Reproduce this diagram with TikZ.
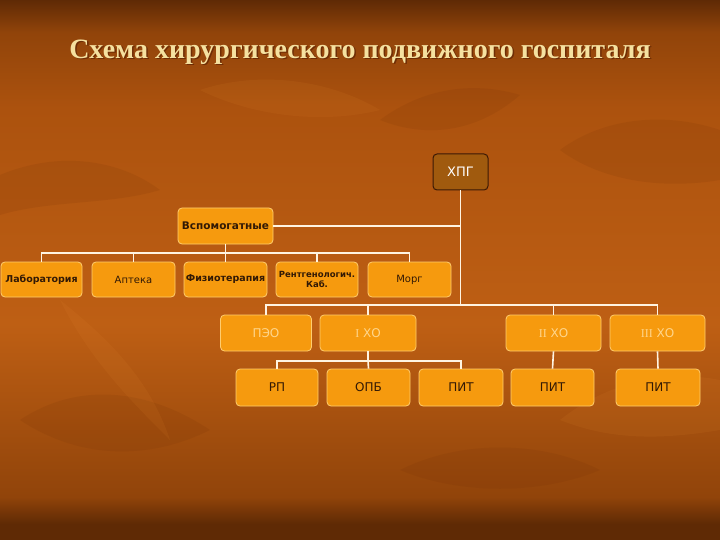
\documentclass[tikz,border=0pt]{standalone}
\usepackage{fontspec}
\setmainfont{Liberation Serif}
\setsansfont{DejaVu Sans}
\newfontfamily\boxfont{DejaVu Sans}
\usetikzlibrary{calc}
\definecolor{bgA}{RGB}{95,42,5}
\definecolor{bgB}{RGB}{145,68,10}
\definecolor{bgC}{RGB}{190,95,20}
\definecolor{bgD}{RGB}{172,82,14}
\definecolor{boxor}{RGB}{246,154,14}
\definecolor{boxedge}{RGB}{255,205,110}
\definecolor{hpgfill}{RGB}{160,90,14}
\definecolor{hpgedge}{RGB}{60,25,5}
\definecolor{darktxt}{RGB}{50,25,5}
\definecolor{paletxt}{RGB}{255,214,140}
\definecolor{linecol}{RGB}{255,244,225}
\definecolor{titlecol}{RGB}{245,225,160}
\definecolor{leafdark}{RGB}{110,45,5}
\definecolor{leaflight}{RGB}{230,140,50}
% the path is mapped onto 25bp (bottom) .. 75bp (top)
\pgfdeclareverticalshading{bgshade}{100bp}{color(0bp)=(bgA); color(25bp)=(bgA); color(26.5bp)=(bgA); color(29bp)=(bgB); color(45bp)=(bgC); color(65bp)=(bgD); color(72bp)=(bgB); color(75bp)=(bgA); color(100bp)=(bgA)}
\tikzset{
  box/.style={draw=boxedge, line width=0.8pt, fill=boxor, rounded corners=4pt, inner sep=1pt, align=center, font=\boxfont},
  smallbold/.style={box, font=\boxfont\bfseries\fontsize{9.5}{10.5}\selectfont, text=darktxt},
  plain/.style={box, font=\boxfont\fontsize{10.5}{12}\selectfont, text=darktxt},
  pale/.style={box, font=\boxfont\fontsize{12}{14}\selectfont, text=paletxt},
  dark/.style={box, font=\boxfont\fontsize{12}{14}\selectfont, text=darktxt},
  conn/.style={draw=linecol, line width=1.6pt},
  leafd/.style={fill=leafdark, opacity=0.12},
  leafl/.style={fill=leaflight, opacity=0.10}
}
\begin{document}
\begin{tikzpicture}[x=1pt,y=-1pt]
\useasboundingbox (0,0) rectangle (720,540);
\shade[shading=bgshade] (0,0) rectangle (720,540);
% faint background leaves
\path[leafd] (0,175) .. controls (60,150) and (120,160) .. (160,190) .. controls (110,205) and (50,200) .. (0,215) -- cycle;
\path[leafd] (380,120) .. controls (420,90) and (470,80) .. (520,95) .. controls (480,130) and (430,140) .. (380,120) -- cycle;
\path[leafd] (560,150) .. controls (600,120) and (660,110) .. (720,130) -- (720,180) .. controls (660,190) and (600,180) .. (560,150) -- cycle;
\path[leafd] (20,420) .. controls (80,380) and (150,390) .. (210,430) .. controls (150,460) and (80,460) .. (20,420) -- cycle;
\path[leafd] (400,470) .. controls (460,440) and (540,440) .. (600,470) .. controls (540,495) and (460,495) .. (400,470) -- cycle;
\path[leafl] (200,90) .. controls (260,70) and (330,80) .. (380,110) .. controls (320,125) and (250,115) .. (200,90) -- cycle;
\path[leafl] (560,420) .. controls (610,380) and (670,370) .. (720,380) -- (720,430) .. controls (660,440) and (610,440) .. (560,420) -- cycle;
\path[leafl] (60,300) .. controls (110,340) and (150,380) .. (170,440) .. controls (130,400) and (90,360) .. (60,300) -- cycle;
% title
\node[font=\bfseries\fontsize{28}{32}\selectfont, text=leafdark] at (361.5,53.5) {Схема хирургического подвижного госпиталя};
\node[font=\bfseries\fontsize{28}{32}\selectfont, text=titlecol] (title) at (360,52) {Схема хирургического подвижного госпиталя};
% nodes
\node[draw=hpgedge, line width=1pt, fill=hpgfill, rounded corners=4pt, text=white, font=\boxfont\fontsize{13}{15}\selectfont, minimum width=55pt, minimum height=36pt, inner sep=1pt] (hpg) at (460.5,172) {ХПГ};
\node[smallbold, font=\boxfont\bfseries\fontsize{10.5}{12}\selectfont, minimum width=95pt, minimum height=36pt] (vsp) at (225.5,226) {Вспомогатные};
\node[smallbold, minimum width=81pt, minimum height=35pt] (lab) at (41.5,279.5) {Лаборатория};
\node[plain, font=\boxfont\fontsize{10}{11}\selectfont, minimum width=83pt, minimum height=35pt] (apt) at (133.5,279.5) {Аптека};
\node[smallbold, minimum width=83pt, minimum height=35pt] (fiz) at (225.5,279.5) {Физиотерапия};
\node[smallbold, font=\boxfont\bfseries\fontsize{8.5}{10}\selectfont, minimum width=82pt, minimum height=35pt] (ren) at (317,279.5) {Рентгенологич.\\Каб.};
\node[plain, font=\boxfont\fontsize{10}{11}\selectfont, minimum width=83pt, minimum height=35pt] (morg) at (409.5,279.5) {Морг};
\node[pale, minimum width=91pt, minimum height=36pt] (peo) at (266,333) {ПЭО};
\node[pale, minimum width=96pt, minimum height=36pt] (ho1) at (368,333) {{\rmfamily I} ХО};
\node[pale, minimum width=95pt, minimum height=36pt] (ho2) at (553.5,333) {{\rmfamily II} ХО};
\node[pale, minimum width=95pt, minimum height=36pt] (ho3) at (657.5,333) {{\rmfamily III} ХО};
\node[dark, minimum width=82pt, minimum height=37pt] (rp) at (277,387.5) {РП};
\node[dark, minimum width=83pt, minimum height=37pt] (opb) at (368.5,387.5) {ОПБ};
\node[dark, minimum width=84pt, minimum height=37pt] (pit1) at (461,387.5) {ПИТ};
\node[dark, minimum width=83pt, minimum height=37pt] (pit2) at (552.5,387.5) {ПИТ};
\node[dark, minimum width=84pt, minimum height=37pt] (pit3) at (658,387.5) {ПИТ};
% bus coordinates
\coordinate (b1) at (225.5,253);
\coordinate (b2) at (460.5,305);
\coordinate (b3) at (368,361);
% connectors
\draw[conn] (hpg.south) -- (b2);
\draw[conn] (vsp.east) -- (vsp.east -| hpg.south);
\draw[conn] (vsp.south) -- (b1);
\draw[conn] (b1) -| (lab.north);
\draw[conn] (b1) -| (apt.north);
\draw[conn] (b1) -- (fiz.north);
\draw[conn] (b1) -| (ren.north);
\draw[conn] (b1) -| (morg.north);
\draw[conn] (b2) -| (peo.north);
\draw[conn] (b2) -| (ho1.north);
\draw[conn] (b2) -| (ho2.north);
\draw[conn] (b2) -| (ho3.north);
\draw[conn] (ho1.south) -- (b3);
\draw[conn] (b3) -| (rp.north);
\draw[conn] (b3) -- (opb.north);
\draw[conn] (b3) -| (pit1.north);
\draw[conn] (ho2.south) -- (pit2.north);
\draw[conn] (ho3.south) -- (pit3.north);
\end{tikzpicture}
\end{document}
